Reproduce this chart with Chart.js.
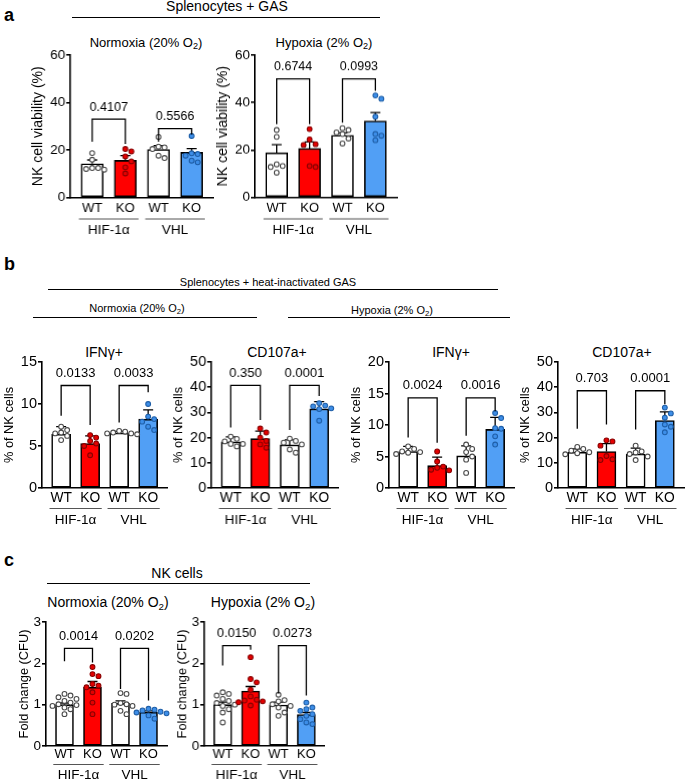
<!DOCTYPE html>
<html>
<head>
<meta charset="utf-8">
<script src="https://cdn.jsdelivr.net/npm/chart.js@4.4.1/dist/chart.umd.min.js"></script>
<style>
  body { margin: 0; width: 685px; height: 781px; position: relative; background: #fff; overflow: hidden;
         font-family: "Liberation Sans", Arial, sans-serif; color: #000; }
  .t { position: absolute; transform: translate(-50%, -50%); white-space: nowrap; line-height: 1; }
  .t sub { font-size: 0.7em; vertical-align: -0.3em; line-height: 0; }
  .ln { position: absolute; height: 1px; background: #000; }
  .lt { position: absolute; font-weight: bold; font-size: 18px; line-height: 1; }
  .box { position: absolute; }
</style>
</head>
<body>

<!-- panel a headers -->
<div class="lt" style="left:4px;top:6px">a</div>
<div class="t" style="left:227px;top:6px;font-size:14px">Splenocytes + GAS</div>
<div class="ln" style="left:72px;top:17px;width:308px"></div>
<div class="t" style="left:146px;top:42px;font-size:13px">Normoxia (20% O<sub>2</sub>)</div>
<div class="t" style="left:324px;top:42px;font-size:13px">Hypoxia (2% O<sub>2</sub>)</div>

<!-- panel b headers -->
<div class="lt" style="left:4px;top:255px">b</div>
<div class="t" style="left:268px;top:282px;font-size:11px">Splenocytes + heat-inactivated GAS</div>
<div class="ln" style="left:48px;top:289px;width:450px"></div>
<div class="t" style="left:137px;top:308px;font-size:11px">Normoxia (20% O<sub>2</sub>)</div>
<div class="ln" style="left:33px;top:317px;width:224px"></div>
<div class="t" style="left:392px;top:310px;font-size:11px">Hypoxia (2% O<sub>2</sub>)</div>
<div class="ln" style="left:288px;top:317px;width:222px"></div>
<div class="t" style="left:104px;top:352px;font-size:14px">IFNγ+</div>
<div class="t" style="left:277px;top:352px;font-size:14px">CD107a+</div>
<div class="t" style="left:451px;top:352px;font-size:14px">IFNγ+</div>
<div class="t" style="left:622px;top:352px;font-size:14px">CD107a+</div>

<!-- panel c headers -->
<div class="lt" style="left:4px;top:551px">c</div>
<div class="t" style="left:177px;top:573px;font-size:14px">NK cells</div>
<div class="ln" style="left:47px;top:583px;width:263px"></div>
<div class="t" style="left:108px;top:602px;font-size:14px">Normoxia (20% O<sub>2</sub>)</div>
<div class="t" style="left:263px;top:602px;font-size:14px">Hypoxia (2% O<sub>2</sub>)</div>

<script>
// ---- data ----
const xLabels = ['WT', 'KO', 'WT', 'KO'];
const geneLabels = ['HIF-1α', 'VHL'];

// a: NK cell viability, splenocytes + GAS
const aNormMean = [14.2, 15.6, 20.2, 19.0];
const aNormErr = [1.6, 2.0, 1.6, 1.6];
const aNormPts = [[18.7, 15.9, 12.4, 12.0, 12.4, 11.7], [20.4, 19.4, 17.3, 15.2, 12.7, 10.1],
                  [25.5, 21.4, 21.1, 20.4, 17.6, 16.6], [25.9, 18.6, 18.3, 17.6, 15.5, 14.8]];
const aNormP = ['0.4107', '0.5566'];

const aHypMean = [18.8, 20.6, 26.2, 32.2];
const aHypErr = [3.4, 2.8, 1.0, 3.6];
const aHypPts = [[28.4, 25.5, 13.9, 13.2, 12.8, 10.4], [28.8, 24.4, 22.4, 22.1, 13.2, 12.8],
                 [29.2, 28.4, 27.4, 26.7, 24.8, 22.7], [43.0, 41.6, 34.0, 26.7, 26.0, 24.1]];
const aHypP = ['0.6744', '0.0993'];

// b: % of NK cells, splenocytes + heat-inactivated GAS
const bNormIfnMean = [6.4, 5.3, 6.55, 8.2];
const bNormIfnErr = [0.9, 0.9, 0.2, 1.1];
const bNormIfnPts = [[7.3, 6.9, 6.6, 6.5, 6.2, 5.7], [6.3, 6.0, 5.6, 5.3, 5.0, 3.9],
                     [6.8, 6.7, 6.6, 6.5, 6.5, 6.4], [10.0, 8.5, 8.2, 7.9, 7.3, 6.9]];
const bNormIfnP = ['0.0133', '0.0033'];

const bNormCdMean = [18.3, 19.6, 17.1, 31.4];
const bNormCdErr = [2.0, 3.0, 2.0, 2.9];
const bNormCdPts = [[20.4, 19.5, 18.5, 17.5, 17.5, 16.5], [23.6, 22.0, 20.0, 18.7, 17.3, 16.0],
                    [19.6, 18.7, 18.0, 17.3, 15.3, 14.0], [33.7, 32.7, 32.4, 31.6, 31.3, 26.7]];
const bNormCdP = ['0.350', '0.0001'];

const bHypIfnMean = [5.8, 3.55, 5.1, 9.3];
const bHypIfnErr = [0.8, 1.35, 1.6, 1.9];
const bHypIfnPts = [[6.6, 6.2, 5.8, 5.7, 5.6, 5.4], [5.8, 4.2, 3.4, 3.2, 2.9, 2.8],
                    [6.9, 6.2, 5.7, 5.0, 4.5, 2.4], [11.9, 11.1, 9.5, 9.4, 8.2, 6.9]];
const bHypIfnP = ['0.0024', '0.0016'];

const bHypCdMean = [14.2, 14.5, 13.5, 26.8];
const bHypCdErr = [1.3, 3.1, 2.3, 3.4];
const bHypCdPts = [[16.3, 15.5, 14.8, 14.2, 13.8, 13.4], [18.9, 18.5, 16.8, 12.7, 11.4, 11.1],
                   [16.8, 14.5, 14.1, 13.5, 12.5, 11.1], [31.9, 29.6, 27.9, 25.2, 24.3, 22.1]];
const bHypCdP = ['0.703', '0.0001'];

// c: fold change (CFU), NK cells
const cNormMean = [1.0, 1.42, 1.03, 0.82];
const cNormErr = [0.04, 0.14, 0.06, 0.03];
const cNormPts = [[1.26, 1.22, 1.18, 1.14, 1.09, 1.05, 1.01, 0.99, 0.97, 0.93, 0.89, 0.77],
                  [1.91, 1.74, 1.69, 1.50, 1.46, 1.42, 1.30, 1.05, 0.77],
                  [1.28, 1.26, 1.04, 1.01, 1.00, 0.97, 0.85, 0.77],
                  [0.90, 0.88, 0.86, 0.83, 0.81, 0.79, 0.74, 0.66]];
const cNormP = ['0.0014', '0.0202'];

const cHypMean = [1.0, 1.33, 0.99, 0.76];
const cHypErr = [0.06, 0.11, 0.07, 0.05];
const cHypPts = [[1.30, 1.26, 1.22, 1.14, 1.09, 1.04, 1.00, 0.97, 0.89, 0.81, 0.57],
                 [2.15, 1.62, 1.54, 1.36, 1.20, 1.12, 1.10, 1.08, 1.06, 0.98],
                 [1.24, 1.11, 1.08, 1.01, 0.97, 0.93, 0.81, 0.73],
                 [1.05, 0.93, 0.89, 0.85, 0.77, 0.73, 0.65, 0.57, 0.53]];
const cHypP = ['0.0150', '0.0273'];

// ---- styles ----
const FONT = '"Liberation Sans", Arial, sans-serif';
const barFill = ['#ffffff', '#ff0000', '#ffffff', '#519ff5'];
const ptFill = ['#ffffff', '#e40000', '#ffffff', '#3d8ee8'];
const ptLine = ['#4a4a4a', '#8a0000', '#4a4a4a', '#1f5fa8'];

// brackets: [top, left leg end, right leg end] in axis units
const charts = [
  { mean: aNormMean, err: aNormErr, pts: aNormPts, p: aNormP, max: 60, tick: 20, yTitle: 'NK cell viability (%)',
    x: 70, yTop: 54.5, yZero: 197, step: 33, barW: 22, brackets: [[33, 23.5, 22.5], [29, 23.5, 26.5]], panel: 'a' },
  { mean: aHypMean, err: aHypErr, pts: aHypPts, p: aHypP, max: 60, tick: 20, yTitle: 'NK cell viability (%)',
    x: 254.5, yTop: 55, yZero: 196.5, step: 32.9, barW: 22, brackets: [[50, 30.8, 30.8], [50, 31.5, 45]], panel: 'a' },
  { mean: bNormIfnMean, err: bNormIfnErr, pts: bNormIfnPts, p: bNormIfnP, max: 15, tick: 5, yTitle: '% of NK cells',
    x: 42, yTop: 362, yZero: 488, step: 29, barW: 19, brackets: [[12.2, 8.6, 7.5], [12.2, 7.8, 11.4]], panel: 'b' },
  { mean: bNormCdMean, err: bNormCdErr, pts: bNormCdPts, p: bNormCdP, max: 50, tick: 10, yTitle: '% of NK cells',
    x: 211, yTop: 362, yZero: 488, step: 29.3, barW: 19, brackets: [[40.7, 24, 27], [40.7, 23, 36.5]], panel: 'b' },
  { mean: bHypIfnMean, err: bHypIfnErr, pts: bHypIfnPts, p: bHypIfnP, max: 20, tick: 5, yTitle: '% of NK cells',
    x: 389, yTop: 362, yZero: 488, step: 29, barW: 19, brackets: [[14.3, 8.0, 7.2], [14.3, 8.3, 12.2]], panel: 'b' },
  { mean: bHypCdMean, err: bHypCdErr, pts: bHypCdPts, p: bHypCdP, max: 50, tick: 10, yTitle: '% of NK cells',
    x: 558, yTop: 362, yZero: 488, step: 29.2, barW: 19, brackets: [[38.6, 23.5, 25.2], [38.6, 23.2, 33.2]], panel: 'b' },
  { mean: cNormMean, err: cNormErr, pts: cNormPts, p: cNormP, max: 3, tick: 1, yTitle: 'Fold change (CFU)',
    x: 46, yTop: 622, yZero: 746, step: 28, barW: 18, brackets: [[2.36, 2.05, 2.02], [2.36, 1.38, 1.1]], panel: 'c' },
  { mean: cHypMean, err: cHypErr, pts: cHypPts, p: cHypP, max: 3, tick: 1, yTitle: 'Fold change (CFU)',
    x: 204, yTop: 622, yZero: 746, step: 27.7, barW: 18, brackets: [[2.43, 1.95, 2.33], [2.43, 1.27, 1.22]], panel: 'c' }
];

// per panel text sizes / offsets below the x axis
const panelStyle = {
  a: { tickSize: 13.5, xSize: 13, xPad: 3, pSize: 12.5, titleSize: 14, titleGap: 32, lineDy: 21, geneDy: 33, geneSize: 13.5 },
  b: { tickSize: 14.5, xSize: 13.8, xPad: 2, pSize: 13, titleSize: 12.8, titleGap: 33, lineDy: 20, geneDy: 32, geneSize: 13.5 },
  c: { tickSize: 13.5, xSize: 13, xPad: 1, pSize: 12.8, titleSize: 12.8, titleGap: 22, lineDy: 18, geneDy: 29, geneSize: 13.5 }
};

// simple beeswarm: horizontal pixel offsets so markers don't overlap
function swarm(vals, pxPerUnit, d) {
  const order = vals.map((v, i) => i).sort((a, b) => vals[b] - vals[a]);
  const placed = [];
  const off = new Array(vals.length).fill(0);
  order.forEach(i => {
    const y = vals[i] * pxPerUnit;
    for (let k = 0; k < 30; k++) {
      const cx = (k === 0 ? 0 : (k % 2 ? 1 : -1) * Math.ceil(k / 2)) * d;
      const hit = placed.some(p => (p.x - cx) ** 2 + (p.y - y) ** 2 < d * d * 0.95);
      if (!hit) { off[i] = cx; placed.push({x: cx, y: y}); break; }
    }
  });
  return off;
}

function makeChart(c) {
  const st = panelStyle[c.panel];
  const xMin = -0.66, xMax = 3.66;
  const L = 62, T = 24, R = 6, B = 48;
  const areaW = (xMax - xMin) * c.step;
  const areaH = c.yZero - c.yTop;
  const W = L + areaW + R, H = T + areaH + B;

  const box = document.createElement('div');
  box.className = 'box';
  box.style.left = (c.x - L) + 'px';
  box.style.top = (c.yTop - T) + 'px';
  box.style.width = W + 'px';
  box.style.height = H + 'px';
  const cv = document.createElement('canvas');
  box.appendChild(cv);
  document.body.appendChild(box);

  const pxY = areaH / c.max;
  const pts = [], fill = [], line = [];
  c.pts.forEach((vals, i) => {
    const off = swarm(vals, pxY, 6);
    vals.forEach((v, k) => {
      pts.push({x: i + off[k] / c.step, y: v});
      fill.push(ptFill[i]);
      line.push(ptLine[i]);
    });
  });

  const titleLH = st.titleSize * 1.2;

  const marks = {
    id: 'marks' + c.x,
    afterDatasetDraw(chart, args) {
      if (args.index !== 0) return;
      const xs = chart.scales.x, ys = chart.scales.y, ctx = chart.ctx;
      ctx.save();
      ctx.strokeStyle = '#000';
      ctx.lineWidth = 1.3;
      c.mean.forEach((m, i) => {
        const px = xs.getPixelForValue(i);
        const y0 = ys.getPixelForValue(m), y1 = ys.getPixelForValue(m + c.err[i]);
        ctx.beginPath();
        ctx.moveTo(px, y0); ctx.lineTo(px, y1);
        ctx.moveTo(px - 5, y1); ctx.lineTo(px + 5, y1);
        ctx.stroke();
      });
      ctx.restore();
    },
    afterDraw(chart) {
      const xs = chart.scales.x, ys = chart.scales.y, ctx = chart.ctx;
      const bottom = chart.chartArea.bottom;
      ctx.save();
      // significance brackets
      ctx.strokeStyle = '#000';
      ctx.lineWidth = 1.3;
      ctx.fillStyle = '#000';
      ctx.font = st.pSize + 'px ' + FONT;
      ctx.textAlign = 'center';
      ctx.textBaseline = 'middle';
      c.brackets.forEach((b, g) => {
        const xl = xs.getPixelForValue(2 * g), xr = xs.getPixelForValue(2 * g + 1);
        const yt = ys.getPixelForValue(b[0]);
        ctx.beginPath();
        ctx.moveTo(xl, ys.getPixelForValue(b[1]));
        ctx.lineTo(xl, yt); ctx.lineTo(xr, yt);
        ctx.lineTo(xr, ys.getPixelForValue(b[2]));
        ctx.stroke();
        ctx.fillText(c.p[g], (xl + xr) / 2, yt - 12);
      });
      // gene group lines and labels
      ctx.strokeStyle = '#555';
      ctx.lineWidth = 1;
      ctx.font = st.geneSize + 'px ' + FONT;
      geneLabels.forEach((name, g) => {
        const xl = xs.getPixelForValue(2 * g - 0.4), xr = xs.getPixelForValue(2 * g + 1.4);
        ctx.beginPath();
        ctx.moveTo(xl, bottom + st.lineDy + 0.5);
        ctx.lineTo(xr, bottom + st.lineDy + 0.5);
        ctx.stroke();
        ctx.fillText(name, (xl + xr) / 2, bottom + st.geneDy);
      });
      ctx.restore();
    }
  };

  new Chart(cv, {
    data: {
      datasets: [
        { type: 'bar', data: c.mean.map((v, i) => ({x: i, y: v})), backgroundColor: barFill,
          borderColor: '#000', borderWidth: 1.6, borderSkipped: false, barThickness: c.barW, order: 2 },
        { type: 'scatter', data: pts, pointRadius: 2.4, pointBorderWidth: 1.1,
          pointBackgroundColor: fill, pointBorderColor: line, clip: false, order: 1 }
      ]
    },
    options: {
      responsive: true,
      maintainAspectRatio: false,
      animation: false,
      layout: { padding: { top: T, right: R, left: 0, bottom: 0 } },
      plugins: { legend: { display: false }, tooltip: { enabled: false } },
      scales: {
        x: {
          type: 'linear', min: xMin, max: xMax, offset: false,
          afterBuildTicks: sc => { sc.ticks = [0, 1, 2, 3].map(v => ({value: v})); },
          afterFit: sc => { sc.height = B; },
          grid: { display: false, drawTicks: false, offset: false },
          border: { display: true, color: '#000', width: 1.6 },
          ticks: { padding: st.xPad, color: '#000', autoSkip: false, maxRotation: 0,
                   font: { size: st.xSize, family: FONT },
                   callback: v => xLabels[v] || '' }
        },
        y: {
          min: 0, max: c.max,
          afterFit: sc => { sc.width = L; },
          grid: { drawOnChartArea: false, tickLength: 4, color: '#000', lineWidth: 1.6 },
          border: { display: true, color: '#000', width: 1.6 },
          ticks: { stepSize: c.tick, padding: 1, color: '#000', font: { size: st.tickSize, family: FONT } },
          title: { display: true, text: c.yTitle, color: '#000', font: { size: st.titleSize, family: FONT },
                   padding: { top: L - st.titleGap - titleLH / 2, bottom: 0 } }
        }
      }
    },
    plugins: [marks]
  });
}

charts.forEach(makeChart);
</script>
</body>
</html>
